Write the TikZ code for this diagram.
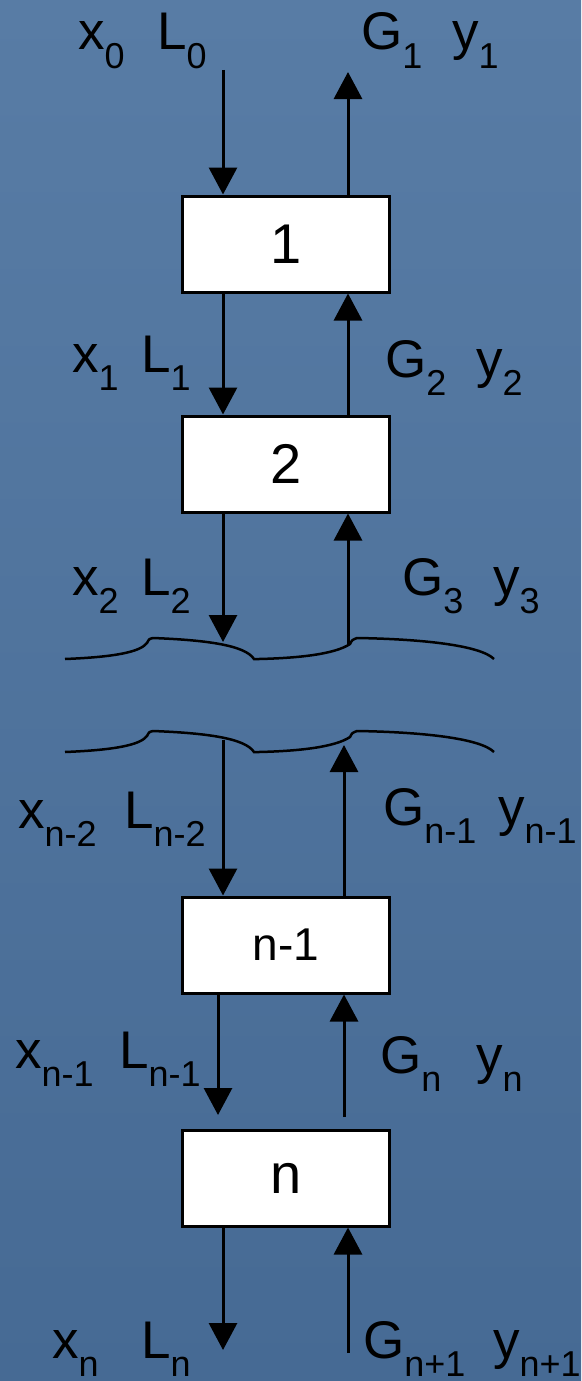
\documentclass[tikz,border=0pt]{standalone}
\usepackage{fontspec}
\setmainfont{Liberation Sans}
\usetikzlibrary{arrows.meta}
\definecolor{bgtop}{RGB}{88,124,165}
\definecolor{bgbot}{RGB}{70,106,148}
\newcommand{\lbl}[2]{#1\raisebox{-18pt}{\fontsize{36}{36}\selectfont #2}}
\begin{document}
\begin{tikzpicture}[x=1pt,y=-1pt,
  blk/.style={draw=black,line width=3pt,fill=white,minimum width=207pt,minimum height=96pt,inner sep=0pt,font=\fontsize{56}{56}\selectfont},
  flow/.style={line width=3pt,-{Triangle[length=27pt,width=28pt]}},
  brk/.style={line width=2.5pt},
  lab/.style={anchor=base west,inner sep=0pt,font=\fontsize{53}{53}\selectfont}]
\fill[top color=bgtop,bottom color=bgbot] (0,0) rectangle (581,1381);
\useasboundingbox (0,0) rectangle (581,1381);
% blocks
\node[blk] (b1) at (286,244) {1};
\node[blk] (b2) at (286,464) {2};
\node[blk,font=\fontsize{46}{46}\selectfont] (b3) at (286,945) {n-1};
\node[blk] (b4) at (286,1178) {n};
% free ends
\coordinate (in0) at (223,70);
\coordinate (out1) at (348,72);
\coordinate (brk1L) at (223,642);
\coordinate (brk1R) at (348,645);
\coordinate (brk2L) at (223,740);
\coordinate (brk2R) at (344,745);
\coordinate (inN) at (218,1115);
\coordinate (outN) at (344,1117);
\coordinate (xnEnd) at (223,1350);
\coordinate (gIn) at (348,1353);
% connectors
\draw[flow] (in0) -- (in0 |- b1.north);
\draw[flow] (b1.north -| out1) -- (out1);
\draw[flow] (b1.south -| in0) -- (b2.north -| in0);
\draw[flow] (b2.north -| out1) -- (b1.south -| out1);
\draw[flow] (b2.south -| brk1L) -- (brk1L);
\draw[flow] (brk1R) -- (b2.south -| brk1R);
\draw[flow] (brk2L) -- (b3.north -| brk2L);
\draw[flow] (b3.north -| brk2R) -- (brk2R);
\draw[flow] (b3.south -| inN) -- (inN);
\draw[flow] (outN) -- (b3.south -| outN);
\draw[flow] (b4.south -| xnEnd) -- (xnEnd);
\draw[flow] (gIn) -- (b4.south -| gIn);
% break lines
\foreach \dy in {0,93}{
\draw[brk,shift={(0,\dy)}] (65,659) .. controls (115,657) and (140,652) .. (147,643) .. controls (149,639) .. (153,638)
  .. controls (205,640) and (245,645) .. (254,659) -- (259,659)
  .. controls (300,658) and (335,654) .. (350,644) .. controls (352,640) .. (357,638)
  .. controls (420,639) and (480,645) .. (494,659);
}
% labels
\node[lab] (lx0) at (78,50) {\lbl{x}{0}};
\node[lab] (lL0) at (157,50) {\lbl{L}{0}};
\node[lab] (lG1) at (361,50) {\lbl{G}{1}};
\node[lab] (ly1) at (452,50) {\lbl{y}{1}};
\node[lab] (lx1) at (72,372) {\lbl{x}{1}};
\node[lab] (lL1) at (141,372) {\lbl{L}{1}};
\node[lab] (lG2) at (385,377) {\lbl{G}{2}};
\node[lab] (ly2) at (476,377) {\lbl{y}{2}};
\node[lab] (lx2) at (72,595) {\lbl{x}{2}};
\node[lab] (lL2) at (141,595) {\lbl{L}{2}};
\node[lab] (lG3) at (402,595) {\lbl{G}{3}};
\node[lab] (ly3) at (493,595) {\lbl{y}{3}};
\node[lab] (lxn2) at (18,828) {\lbl{x}{n-2}};
\node[lab] (lLn2) at (124,828) {\lbl{L}{n-2}};
\node[lab] (lGn1) at (383,825) {\lbl{G}{n-1}};
\node[lab] (lyn1) at (498,825) {\lbl{y}{n-1}};
\node[lab] (lxn1) at (15,1068) {\lbl{x}{n-1}};
\node[lab] (lLn1) at (119,1068) {\lbl{L}{n-1}};
\node[lab] (lGn) at (380,1073) {\lbl{G}{n}};
\node[lab] (lyn) at (476,1073) {\lbl{y}{n}};
\node[lab] (lxn) at (52,1358) {\lbl{x}{n}};
\node[lab] (lLn) at (141,1358) {\lbl{L}{n}};
\node[lab] (lGn1b) at (363,1358) {\lbl{G}{n+1}};
\node[lab] (lyn1b) at (493,1358) {\lbl{y}{n+1}};
\end{tikzpicture}
\end{document}
